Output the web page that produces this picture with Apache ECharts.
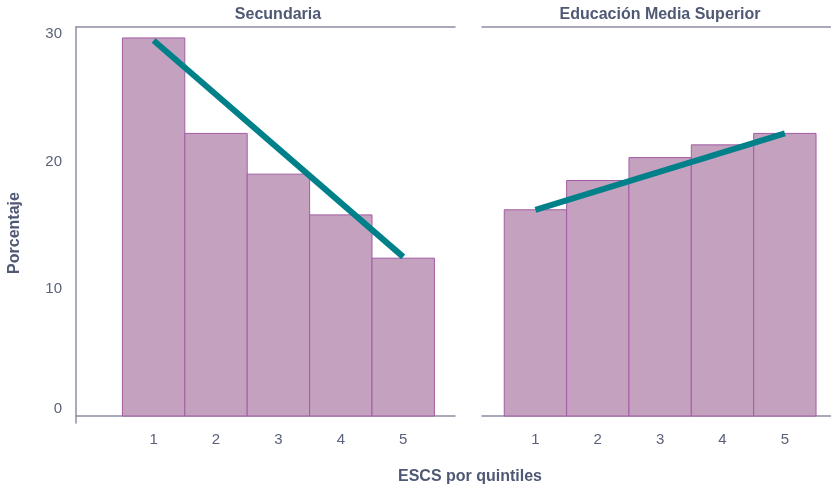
<!DOCTYPE html>
<html>
<head>
<meta charset="utf-8">
<script src="https://cdn.jsdelivr.net/npm/echarts@6/dist/echarts.min.js"></script>
<style>
  html, body { margin: 0; padding: 0; background: #fff; }
  #main { width: 831px; height: 489px; }
</style>
</head>
<body>
<div id="main"></div>
<script>
// datos
var quintiles = [1, 2, 3, 4, 5];
var secundaria = [29.7, 22.2, 19.0, 15.8, 12.4];
var mediaSuperior = [16.2, 18.5, 20.3, 21.3, 22.2];
// recta de tendencia: valor en quintil 1 y quintil 5
var fitX = [1, 5];
var secundariaFit = [29.5, 12.5];
var mediaSuperiorFit = [16.2, 22.2];
var yTicks = [0, 10, 20, 30];

var axisColor = '#8c8ea3';
var textColor = '#4f5974';
var tickColor = '#59627a';
var barFill = '#c4a1bf';
var barBorder = '#a35ca4';
var lineColor = '#00818a';
var font = 'Liberation Sans';
var titleFont = 'bold 16px "Liberation Sans"';

var pairs = function (xs, ys) {
  return xs.map(function (x, i) { return [x, ys[i]]; });
};

var renderBar = function (params, api) {
  var x = api.value(0);
  var top = api.coord([x - 0.5, api.value(1)]);
  var bottom = api.coord([x + 0.5, 0]);
  return {
    type: 'rect',
    shape: { x: top[0], y: top[1], width: bottom[0] - top[0], height: bottom[1] - top[1] },
    style: { fill: barFill, stroke: barBorder, lineWidth: 1 }
  };
};

var label = function (text, x, y, rot) {
  return {
    type: 'text', x: x, y: y, rotation: rot || 0,
    style: { text: text, fill: textColor, font: titleFont, align: 'center', verticalAlign: 'middle', textAlign: 'center', textVerticalAlign: 'middle' }
  };
};

var chart = echarts.init(document.getElementById('main'));

var xBase = {
  type: 'value',
  splitLine: { show: false },
  axisTick: { show: false },
  axisLine: { lineStyle: { color: axisColor, width: 1.5 } },
  axisLabel: { customValues: quintiles, color: tickColor, fontSize: 15, fontFamily: font, margin: 16 }
};
var xTop = {
  type: 'value',
  position: 'top',
  splitLine: { show: false },
  axisTick: { show: false },
  axisLabel: { show: false },
  axisLine: { onZero: false, lineStyle: { color: axisColor, width: 1.5 } }
};

var option = {
  animation: false,
  grid: [
    { left: 76, top: 27, width: 379, height: 396 },
    { left: 482, top: 27, right: 0, height: 389 }
  ],
  xAxis: [
    Object.assign({}, xBase, { gridIndex: 0, min: -0.244, max: 5.83,
      axisLabel: Object.assign({}, xBase.axisLabel, { margin: 9 }) }),
    Object.assign({}, xBase, { gridIndex: 1, min: 0.143, max: 5.74 }),
    Object.assign({}, xTop, { gridIndex: 0, min: -0.244, max: 5.83 }),
    Object.assign({}, xTop, { gridIndex: 1, min: 0.143, max: 5.74 })
  ],
  yAxis: [
    {
      type: 'value', gridIndex: 0, min: -0.55, max: 30.56,
      splitLine: { show: false },
      axisTick: { show: false },
      axisLine: { show: true, onZero: false, lineStyle: { color: axisColor, width: 1.5 } },
      axisLabel: {
        customValues: yTicks, color: tickColor, fontSize: 15, fontFamily: font, margin: 14,
        formatter: function (v) { return v === 0 ? '{z|0}' : String(v); },
        rich: { z: { color: tickColor, fontSize: 15, fontFamily: font, padding: [0, 0, 14, 0] } }
      }
    },
    { type: 'value', gridIndex: 1, min: 0, max: 30.56, show: false }
  ],
  graphic: [
    label('Secundaria', 278, 15),
    label('Educación Media Superior', 660, 15),
    label('ESCS por quintiles', 470, 477),
    label('Porcentaje', 15, 233, Math.PI / 2)
  ],
  series: [
    { type: 'custom', xAxisIndex: 0, yAxisIndex: 0, renderItem: renderBar, data: pairs(quintiles, secundaria) },
    { type: 'custom', xAxisIndex: 1, yAxisIndex: 1, renderItem: renderBar, data: pairs(quintiles, mediaSuperior) },
    { type: 'line', xAxisIndex: 0, yAxisIndex: 0, data: pairs(fitX, secundariaFit), symbol: 'none', z: 5,
      lineStyle: { color: lineColor, width: 6, cap: 'butt' } },
    { type: 'line', xAxisIndex: 1, yAxisIndex: 1, data: pairs(fitX, mediaSuperiorFit), symbol: 'none', z: 5,
      lineStyle: { color: lineColor, width: 6, cap: 'butt' } }
  ]
};

chart.setOption(option);
</script>
</body>
</html>
